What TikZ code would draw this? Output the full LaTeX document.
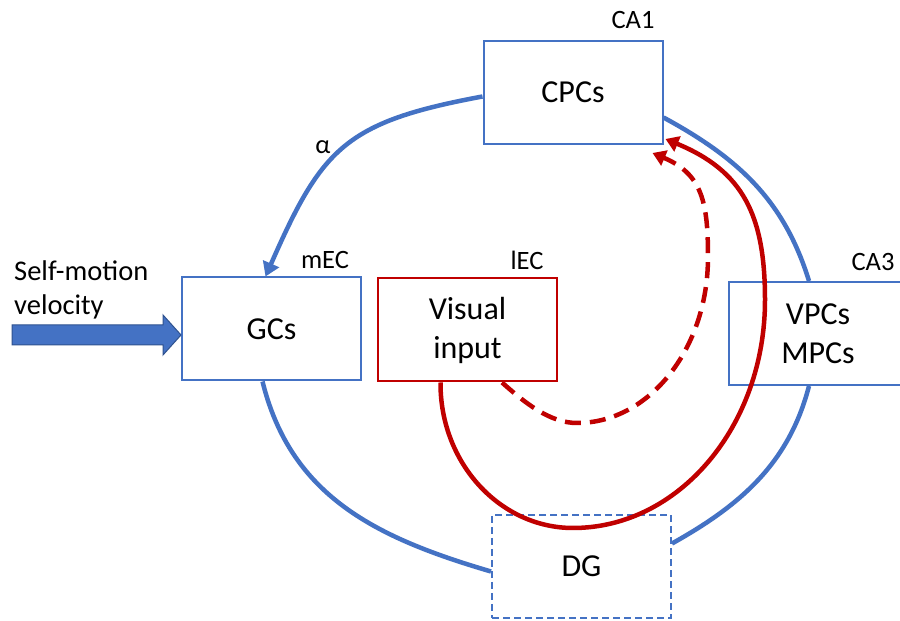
\documentclass[tikz,border=0pt]{standalone}
\usepackage{fontspec}
\setmainfont{Carlito}
\usetikzlibrary{arrows.meta}
\definecolor{oblue}{HTML}{4472C4}
\definecolor{dblue}{HTML}{2F528F}
\definecolor{ored}{HTML}{C00000}
\newcommand\mybigfont{\fontsize{32bp}{39bp}\selectfont}
\newcommand\mysmallfont{\fontsize{26.5bp}{34bp}\selectfont}
\newcommand\mysmfont{\fontsize{28.5bp}{34bp}\selectfont}
\begin{document}
\begin{tikzpicture}[x=1bp,y=1bp,
  box/.style={draw=oblue, line width=2bp, minimum width=179bp, minimum height=103bp,
              inner sep=0pt, font=\mybigfont, align=center, text=black},
  redbox/.style={box, draw=ored},
  dgbox/.style={box, dash pattern=on 7bp off 4bp},
  lbl/.style={font=\mysmallfont, inner sep=0pt, text=black},
  bluearc/.style={draw=oblue, line width=4.5bp},
  redarc/.style={draw=ored, line width=4.5bp},
  redtip/.style={-{Triangle[length=13bp,width=16bp]}},
  bluetip/.style={-{Triangle[length=14bp,width=17bp]}}
]
\clip (0,0) rectangle (900,621);
\fill[white] (0,0) rectangle (900,621);

% boxes
\node[box] (cpc) at (573,528.5) {CPCs};
\node[box] (gc) at (271.5,292) {GCs};
\node[redbox] (vi) at (467.5,291) {Visual\\input};
\node[box] (vp) at (818,287.5) {VPCs\\MPCs};
\node[dgbox] (dg) at (581.5,54.5) {DG};

% labels
\node[lbl] (ca1) at (633,601) {CA1};
\node[lbl] (mec) at (325,361) {mEC};
\node[lbl] (lec) at (527,361) {lEC};
\node[lbl] (ca3) at (873,359) {CA3};
\node[lbl] (alpha) at (323,474) {α};
\node[lbl, font=\mysmfont, align=left, anchor=west] (sm) at (14,331) {Self-motion\\velocity};

% self-motion arrow
\coordinate (smstart) at (12,286);
\draw[draw=dblue, fill=oblue, line width=1bp]
  (smstart) ++(0,10) -- (163,296) -- (163,306) -- ([yshift=-6bp]gc.west)
  -- (163,266) -- (163,276) -- (12,276) -- cycle;

% blue ring
\draw[bluearc, bluetip] ([yshift=-4bp]cpc.west)
  .. controls (345,499) and (322,473) .. ([xshift=-6bp]gc.north);
\draw[bluearc] ([xshift=-9bp]gc.south)
  .. controls (291,124) and (377,83) .. ([yshift=-5bp]dg.west);
\draw[bluearc] ([yshift=23bp]dg.east)
  .. controls (741,116) and (789,158) .. ([xshift=-9bp]vp.south);
\draw[bluearc] ([yshift=-25bp]cpc.east)
  .. controls (738,463) and (784,421) .. ([xshift=-9bp]vp.north);

% red solid
\draw[redarc, redtip] ([xshift=-27bp]vi.south)
  .. controls (440,158) and (500,93) .. (573,93)
  .. controls (679,93) and (765,195) .. (765,321)
  .. controls (765,406) and (743,450) .. ([xshift=2bp,yshift=6bp]cpc.south east);

% red dashed
\draw[redarc, redtip, dash pattern=on 16bp off 9bp] ([xshift=34.5bp]vi.south)
  .. controls (525,218) and (550,198) .. (577,198)
  .. controls (649,198) and (708,272) .. (708,364)
  .. controls (708,419) and (702,447) .. ([xshift=-11bp,yshift=-8bp]cpc.south east);
\end{tikzpicture}
\end{document}
